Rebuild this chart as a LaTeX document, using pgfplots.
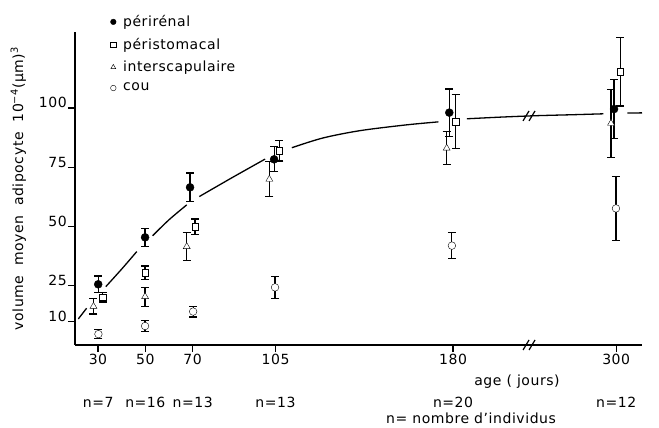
\documentclass[border=0pt]{standalone}
\usepackage{fontspec}
\setmainfont{DejaVu Sans}[LetterSpace=4]
\usepackage{pgfplots}
\pgfplotsset{compat=1.18}

\pgfplotsset{
  eb/.style={error bars/.cd, y dir=both, y explicit,
    error bar style={line width=1.2pt, black},
    error mark options={rotate=90, line width=1.2pt, mark size=4pt, black}},
  seg/.style={line width=1.3pt, black, smooth, forget plot},
}

\begin{document}
\fontsize{14pt}{17pt}\selectfont
\begin{tikzpicture}
\path[use as bounding box] (-75pt,-83pt) rectangle (584pt,345pt);
\begin{axis}[
  scale only axis, width=567pt, height=313pt,
  xmin=20.3, xmax=259.8, ymin=0, ymax=132,
  axis x line*=bottom, axis y line*=left,
  axis line style={line width=1.3pt},
  tick align=outside, major tick length=7pt,
  tick style={line width=1.3pt, black},
  xtick={30,50,70,105,180,248.9},
  xticklabels={30,50,70,105,180,300},
  ytick={10,25,50,75,100},
  yticklabels={10,25,50,75,100},
  y tick label style={anchor=base east, inner sep=1pt},
  x tick label style={inner sep=2pt},
  clip=false,
  ylabel={volume\hspace{0.7em}moyen\hspace{0.7em}adipocyte\hspace{0.7em}10\textsuperscript{−4}(μm)\textsuperscript{3}},
  ylabel style={at={(axis description cs:-0.1,0.5)}, anchor=center},
  legend style={at={(0.057,1.067)}, anchor=north west, draw=none, fill=none,
    row sep=5.5pt, legend image post style={mark size=2.8pt},
    /tikz/every odd column/.append style={column sep=5pt}},
  legend cell align=left,
]
% fitted growth curve, broken around the points
\addplot[seg] coordinates {(21.7,11) (25.2,15.5)};
\addplot[seg] coordinates {(33.3,24.6) (40,32) (46.4,39.4)};
\addplot[seg] coordinates {(53.1,46.1) (60,52.8) (67.5,59.1)};
\addplot[seg] coordinates {(72.8,62.6) (86.7,70.6) (100.6,78.4)};
\addplot[seg] coordinates {(111.9,83.2) (125,87.3) (140.7,90.4) (160,92.8) (173.8,94.1)};
\addplot[seg] coordinates {(185.8,95.4) (200,96.1) (215,96.7) (230,97.1) (243.5,97.5)};
\addplot[seg] coordinates {(253.6,97.8) (259.8,97.9)};

\addplot[only marks, mark=*, mark size=4pt, black, eb] coordinates {
  (30.1,25.6) +- (0,3.5)
  (49.9,45.4) +- (0,3.7)
  (68.9,66.5) +- (0,6)
  (104.4,78.3) +- (0,5.3)
  (178.4,98) +- (0,10)
  (248.0,99.5) +- (0,12.5)
};
\addlegendentry{périrénal}

\addplot[only marks, mark=square*, mark size=3.3pt, black, mark options={fill=white}, eb] coordinates {
  (32.0,20.1) +- (0,2)
  (49.9,30.5) +- (0,2.8)
  (71.0,49.9) +- (0,3.2)
  (106.6,82) +- (0,4.4)
  (181.1,94.2) +- (0,11.5)
  (250.6,115.3) +- (0,14.5)
};
\addlegendentry{péristomacal}

\addplot[only marks, mark=triangle*, mark size=4pt, black, mark options={fill=white}, eb] coordinates {
  (28.1,16.3) +- (0,3.2)
  (49.9,20.4) +- (0,4)
  (67.5,41.5) +- (0,6)
  (102.4,69.9) +- (0,7.4)
  (177.3,83) +- (0,7)
  (246.7,93.5) +- (0,14.4)
};
\addlegendentry{interscapulaire}

\addplot[only marks, mark=*, mark size=3.8pt, black, mark options={fill=white}, eb] coordinates {
  (30.2,4.6) +- (0,2)
  (49.9,8.0) +- (0,2.2)
  (70.2,14.1) +- (0,2.3)
  (104.8,24.3) +- (0,4.7)
  (179.5,41.9) +- (0,5.4)
  (248.8,57.6) +- (0,13.5)
};
\addlegendentry{cou}

% axis and curve breaks
\draw[line width=1.2pt, shift={(axis cs:212.5,0)}] (-7pt,-5pt) -- (-1pt,5pt) (-1pt,-5pt) -- (5pt,5pt);
\draw[line width=1.2pt, shift={(axis cs:212.5,96.6)}] (-7pt,-5pt) -- (-1pt,5pt) (-1pt,-5pt) -- (5pt,5pt);

\node at (axis cs:30.1,-24) {n=7};
\node at (axis cs:50,-24) {n=16};
\node at (axis cs:70,-24) {n=13};
\node at (axis cs:105,-24) {n=13};
\node at (axis cs:180,-24) {n=20};
\node at (axis cs:248.9,-24) {n=12};
\node at (axis cs:207,-15.6) {age ( jours)};
\node at (axis cs:187.6,-30.8) {n= nombre d'individus};
\end{axis}
\end{tikzpicture}
\end{document}
